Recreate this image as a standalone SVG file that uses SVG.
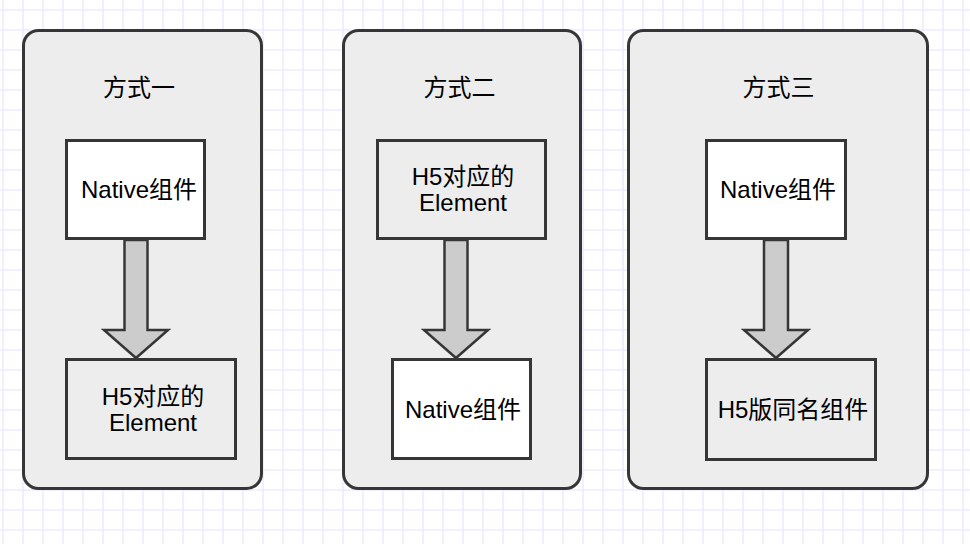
<svg xmlns="http://www.w3.org/2000/svg" width="970" height="544" viewBox="0 0 970 544">
<defs>
<pattern id="grid" patternUnits="userSpaceOnUse" x="-7" y="0" width="20" height="20">
<path d="M0 10 H20 M10 0 V20" stroke="#ecebff" stroke-width="1.6" fill="none"/>
</pattern>
<style>
.container{fill:#ededed;stroke:#363636;stroke-width:3}
.box{stroke:#363636;stroke-width:3}
.white{fill:#ffffff}
.gray{fill:#ededed}
.arrow{fill:#cccccc;stroke:#363636;stroke-width:2.5;stroke-linejoin:miter}
text{font-family:"Liberation Sans","Noto Sans CJK SC",sans-serif;font-size:24px;fill:#000;text-anchor:middle}
</style>
</defs>
<rect width="970" height="544" fill="#ffffff"/>
<rect width="970" height="544" fill="url(#grid)"/>

<g id="group1">
<rect class="container" x="23.5" y="30.5" width="238" height="458" rx="15"/>
<text x="139" y="96">方式一</text>
</g>
<g id="group2">
<rect class="container" x="343.5" y="30.5" width="237" height="458" rx="15"/>
<text x="459.5" y="96">方式二</text>
</g>
<g id="group3">
<rect class="container" x="628.5" y="30.5" width="299" height="458" rx="15"/>
<text x="778.5" y="96">方式三</text>
</g>

<g id="connectors">
<polygon class="arrow" points="124.5,240 147.5,240 147.5,330 168,330 136,358 104,330 124.5,330"/>
<polygon class="arrow" points="444.5,240 467.5,240 467.5,330 488,330 456,358 424,330 444.5,330"/>
<polygon class="arrow" points="764,240 788,240 788,330 808,330 776,358 744,330 764,330"/>
</g>

<g id="n1a">
<rect class="box white" x="66.5" y="140.5" width="138" height="98"/>
<text x="139" y="198">Native组件</text>
</g>
<g id="n1b">
<rect class="box gray" x="66.5" y="359.5" width="169" height="99"/>
<text x="153" y="405">H5对应的</text>
<text x="153" y="431">Element</text>
</g>
<g id="n2a">
<rect class="box gray" x="377.5" y="140.5" width="168" height="98"/>
<text x="463" y="185">H5对应的</text>
<text x="463" y="211">Element</text>
</g>
<g id="n2b">
<rect class="box white" x="392.5" y="359.5" width="138" height="99"/>
<text x="463" y="418">Native组件</text>
</g>
<g id="n3a">
<rect class="box white" x="706.5" y="140.5" width="139" height="98"/>
<text x="778" y="198">Native组件</text>
</g>
<g id="n3b">
<rect class="box gray" x="706.5" y="359.5" width="169" height="100"/>
<text x="793" y="418">H5版同名组件</text>
</g>
</svg>
